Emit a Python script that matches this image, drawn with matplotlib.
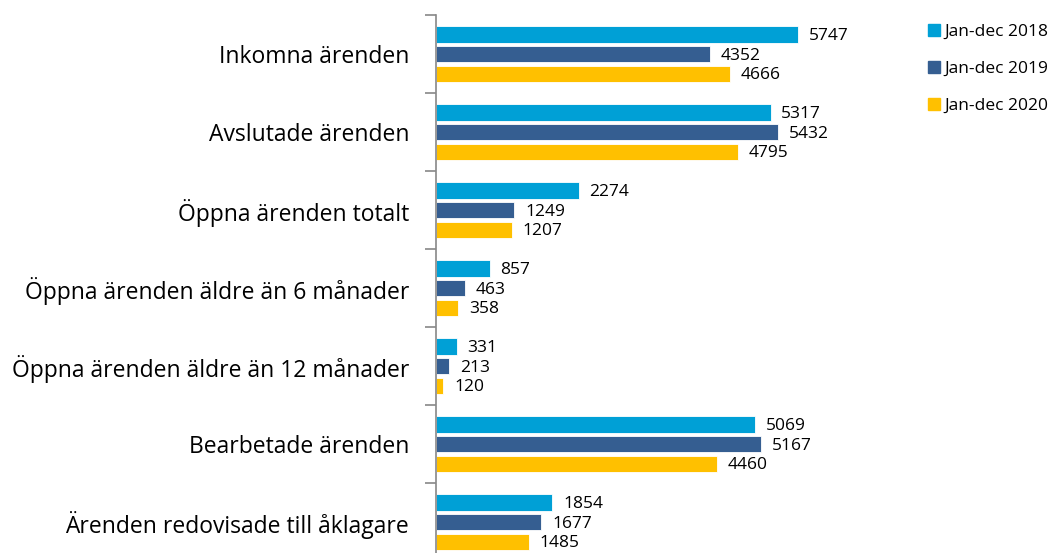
import matplotlib.pyplot as plt
import numpy as np

categories = ["Inkomna ärenden", "Avslutade ärenden", "Öppna ärenden totalt",
              "Öppna ärenden äldre än 6 månader", "Öppna ärenden äldre än 12 månader",
              "Bearbetade ärenden", "Ärenden redovisade till åklagare"]
series_names = ["Jan-dec 2018", "Jan-dec 2019", "Jan-dec 2020"]
v2018 = [5747, 5317, 2274, 857, 331, 5069, 1854]
v2019 = [4352, 5432, 1249, 463, 213, 5167, 1677]
v2020 = [4666, 4795, 1207, 358, 120, 4460, 1485]
colors = ["#00A0D6", "#355E91", "#FFC000"]

plt.rcParams['font.family'] = ['Open Sans', 'DejaVu Sans']

fig = plt.figure(figsize=(10.6, 5.53), dpi=100)
ax = fig.add_axes([0.411, -0.0145, 0.416, 0.9873])

y = np.arange(len(categories))
offsets = [-0.255, 0, 0.255]
for vals, off, col, name in zip([v2018, v2019, v2020], offsets, colors, series_names):
    bars = ax.barh(y + off, vals, height=0.215, color=col, label=name,
                   edgecolor='white', linewidth=0.6)
    for b, v in zip(bars, vals):
        ax.text(b.get_width() + 170, b.get_y() + b.get_height() / 2 + 0.02, str(v),
                va='center', ha='left', fontsize=12.5, color='black')

ax.set_xlim(0, 7000)
ax.set_ylim(len(categories) - 0.5, -0.5)
for s in ['top', 'right', 'bottom']:
    ax.spines[s].set_visible(False)
ax.spines['left'].set_color('#888888')
ax.spines['left'].set_linewidth(1.2)
ax.set_xticks([])

ax.set_yticks(np.arange(len(categories) + 1) - 0.5)
ax.set_yticklabels([])
ax.tick_params(axis='y', which='major', length=8, color='#888888', width=1.2)
ax.set_yticks(y, minor=True)
ax.set_yticklabels(categories, minor=True, fontsize=16.5)
ax.tick_params(axis='y', which='minor', length=0, pad=19)

handles = [plt.Rectangle((0, 0), 1, 1, color=c) for c in colors]
fig.legend(handles, series_names, loc='upper left', bbox_to_anchor=(0.861, 0.985),
           frameon=False, fontsize=12.5, handlelength=0.7, handleheight=0.7,
           handletextpad=0.2, labelspacing=1.2)

fig.savefig("out.png", dpi=100)
